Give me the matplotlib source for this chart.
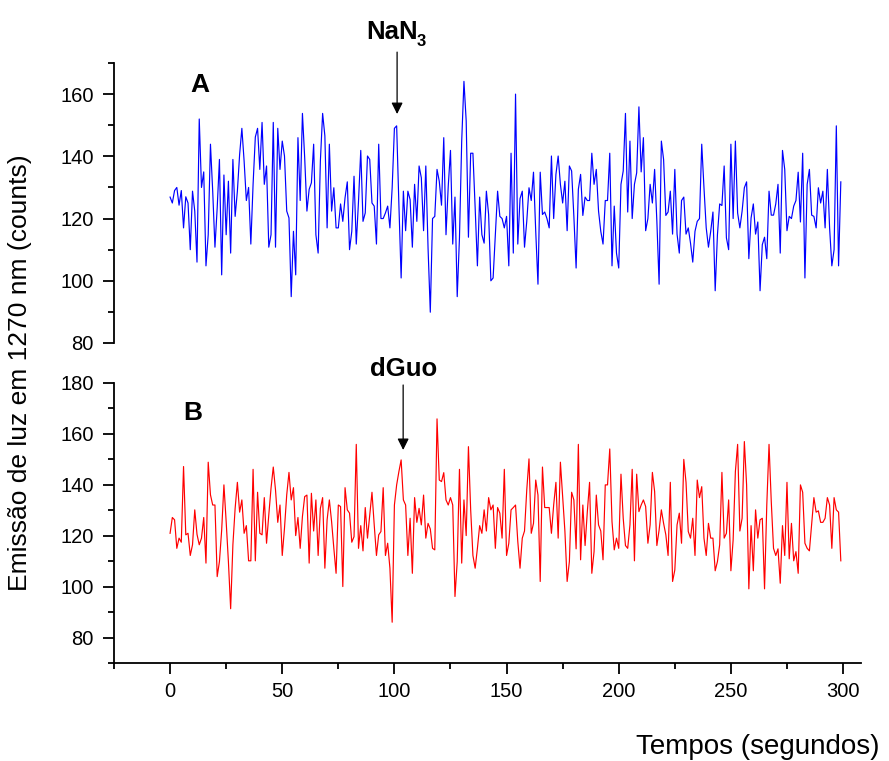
import numpy as np
import matplotlib
matplotlib.use("Agg")
import matplotlib.pyplot as plt
from matplotlib.ticker import MultipleLocator

plt.rcParams['font.family'] = ['Liberation Sans', 'DejaVu Sans']

# time axis (seconds)
seconds = np.arange(300)

# panel A: emission counts, NaN3 added at ~101 s
counts_a = [
    126.9, 125.0, 129, 130, 124.3, 129, 117, 127, 125, 110,
    128.8, 122.4, 106, 152, 130, 135, 104.8, 114.8, 143.9, 128.8,
    110.8, 123.4, 139, 101.9, 134, 114.8, 132, 108.9, 139, 120.7,
    128.8, 140.6, 149, 138.5, 125.8, 130, 111.8, 131, 146.2, 149,
    135.8, 150.9, 131, 136.9, 110.8, 114.8, 150.9, 110.8, 149, 135.8,
    144.9, 140.1, 122.4, 120.2, 94.9, 115.9, 101.9, 146, 125.8, 153.8,
    139.6, 122.4, 129.4, 131.5, 143.9, 114.8, 108.9, 138.5, 153.8, 146.6,
    117, 143.9, 122.4, 129.9, 117, 117, 124.7, 119.1, 126.7, 131.8,
    110, 115.9, 133.6, 111.8, 125.6, 141.9, 119.1, 121.8, 140.1, 139,
    125, 124, 111.8, 143.9, 120, 120, 121.8, 124, 117, 129.9,
    149, 149.8, 124.5, 100.9, 128.8, 116.1, 128.8, 126.1, 110.8, 131,
    119.1, 136.9, 133.1, 116.1, 136.9, 110.5, 89.9, 120, 120.7, 135.8,
    132, 124.3,
    146, 114.8, 130.4, 141.9, 111.8, 126.9, 94.9, 113.8, 144.9, 164.1,
    151.4, 114, 141, 141, 123.4, 104.8, 126.9, 114.8, 112.1, 128.8,
    121.3, 100, 100.9, 114.8, 128.8, 120.7, 120, 117, 120.7, 104.8,
    141, 108.9, 160, 111.8, 126.4, 128.8, 110.8, 119.1, 129.9, 125.8,
    134.9, 115.9, 98.9, 134.9, 121.3, 122.1, 120, 117, 140.1, 120,
    134.2, 140.1, 131, 125, 132, 116.1, 136.9, 135.3, 120.7, 104.1,
    129.4, 134.2,
    121, 126.9, 125.8, 125.8, 141, 131, 135.8, 122.4, 115.9, 111.8,
    125.8, 125.8, 141, 104.8, 124, 108.9, 104.1, 131, 135.3, 153.8,
    122.1, 144.9, 120, 131, 134.7, 155.9, 135, 146, 116.1, 120,
    131, 125, 135.8, 119.1, 98.9, 144.9, 139, 121, 122.1, 128.8,
    115, 135.8, 115, 108.9, 125.8, 126.9, 115, 117, 112.1, 106,
    115.9, 119.1, 120, 143.9, 129.9, 117, 110.8, 115.9, 122.1, 96.8,
    114.8,
    124.7, 124.2, 136.9, 113.8, 110, 143.9, 120, 144.9, 121.8, 117,
    122.4, 129.9, 131.8, 107.1, 120.2, 124.7, 115, 118.9, 96.8, 111.6,
    114, 107.1, 128.8, 121.1, 121.1, 124.7, 131, 108.9, 141.9, 135.8,
    116.1, 120.7, 120, 124, 125.8, 134.9, 118.9, 141, 100.9, 131,
    135.8, 121.1, 120.7, 117, 129.9, 125, 128.8, 117, 135.8, 117,
    104.8, 110, 149.8, 104.8, 131.8,
]

# panel B: emission counts, dGuo added at ~104 s
counts_b = [
    120.9, 127.1, 126.2, 115.0, 119, 117.4, 147.1, 120.3, 120.9, 112.2,
    116.4, 130.1, 120.5, 116.4, 119, 127.1, 109.2, 148.8, 136, 132,
    132, 103.9, 109.8, 122.2, 139.9, 125.5, 109.8, 91.3, 116.4, 130.7,
    140.9, 129.2, 134, 120.9, 123.9, 110.1, 110.1, 146, 110.1, 137,
    120.9, 120.3, 134.9, 117, 128.1, 138.6, 146.9, 137.9, 125.2, 132,
    112.2, 122.9, 136, 144.8, 134, 138.8, 120, 127.1, 115, 127.5,
    135.3, 135.9, 109.2, 136.6, 121.8, 134, 112.2, 130.7, 134.9, 107.2,
    126.2, 134, 125.5, 115, 105.2, 132, 131.4, 100, 138.8, 130.1,
    128.8, 117.4, 119.6, 155.8, 115, 123.9, 114, 131, 119, 128.1,
    137, 124.2, 112.2, 120.3, 121.6, 138.8, 112.2, 117, 107.2, 86,
    132, 139.9, 145.1, 149.7, 134, 132, 112.2, 126.8, 105.2, 134.9,
    125.2, 130.7, 124.2, 135.9, 119, 124.8, 122.6, 115, 114.4, 165.8,
    141.8, 141.2, 144.7, 134, 132, 134.9, 132, 96.1, 109.8, 146,
    109.2, 134, 120, 154.9, 130.1, 112.2, 107.2, 115, 123.9, 120.9,
    130.1, 121.8, 134.9, 130.1, 132, 115, 131, 128.8, 119, 146,
    112.2, 117, 130.1, 131, 132, 117.7, 107.2, 119, 121.8, 137.9,
    150.1, 120.9, 124.8, 141.8, 135.9, 102, 146.9, 131, 131, 131,
    120.9, 132, 140.9, 119, 148.8, 135.3, 121.8, 102, 109.8, 137,
    134, 114.8, 155.8, 110.5, 132, 116.1, 129.4, 140.9, 105.2, 113.7,
    135.9, 124.2, 121.8, 110.5, 139.9, 139.9, 154, 125.5, 114.4, 119,
    115, 144.1, 126.8, 116.1, 115, 124.2, 146, 110.1, 144.1, 129.4,
    132, 134, 131.4, 117, 124.2, 144.8, 137.3, 116.1, 122.2, 130.1,
    124.8, 120.3, 112.2, 140.9, 102, 106.5, 124.2, 128.8, 117, 149.9,
    140.9, 121.6, 119, 126.8, 112.2, 141.8, 134.9, 139.2, 119, 112.2,
    124.8, 119, 119, 106.2, 109.8, 116.4, 144.8, 119, 120.9, 134,
    106.2, 118.3, 145.1, 155.8, 121.8, 126.8, 156.9, 139.9, 99.1, 123.9,
    106.2, 130.1, 119, 126.2, 126.8, 99.1, 132, 155.8, 133.3, 115,
    112.2, 114.8, 101.3, 123.9, 112.2, 140.9, 110.9, 124.8, 110.1, 113.7,
    105.2, 139.9, 137, 117, 115, 114, 124.2, 134.9, 129.2, 129.7,
    125.2, 125.2, 126.8, 134.9, 132, 115, 134.9, 130.1, 129.2, 110.1,
]

yticks_a = [80, 100, 120, 140, 160]
yticks_b = [80, 100, 120, 140, 160, 180]
xticks = [0, 50, 100, 150, 200, 250, 300]

W, H = 889, 761
fig = plt.figure(figsize=(W / 100, H / 100), dpi=100)

left, right = 114 / W, 861 / W
ax_a = fig.add_axes([left, 1 - 343 / H, right - left, (343 - 63) / H])
ax_b = fig.add_axes([left, 1 - 663 / H, right - left, (663 - 382.7) / H])

FS = 14.5
for ax in (ax_a, ax_b):
    ax.set_xlim(-25, 308)
    ax.spines['top'].set_visible(False)
    ax.spines['right'].set_visible(False)
    for s in ax.spines.values():
        s.set_linewidth(1.3)
    ax.tick_params(which='major', direction='out', length=8, width=1.3, labelsize=FS)
    ax.tick_params(axis='y', which='major', pad=6.5)
    ax.tick_params(axis='x', which='major', pad=5.5)
    ax.tick_params(which='minor', direction='out', length=4, width=1.3)
    ax.yaxis.set_minor_locator(MultipleLocator(10))
    ax.patch.set_visible(False)

# panel A
ax_a.plot(seconds, counts_a, color='#0000ff', lw=0.85)
ax_a.set_ylim(80, 170)
ax_a.set_yticks(yticks_a)
ax_a.spines['bottom'].set_visible(False)
ax_a.tick_params(axis='x', which='both', bottom=False, labelbottom=False)

# panel B
ax_b.plot(seconds, counts_b, color='#ff0000', lw=0.85)
ax_b.set_ylim(70, 180)
ax_b.set_yticks(yticks_b)
ax_b.set_xticks(xticks)
ax_b.xaxis.set_minor_locator(MultipleLocator(25))

# panel letters
ax_a.text(13.4, 162.9, 'A', fontsize=19, fontweight='bold', ha='center', va='center')
ax_b.text(10.3, 168.1, 'B', fontsize=19, fontweight='bold', ha='center', va='center')

# addition markers
arrow = dict(arrowstyle='-|>', color='black', lw=0.9, mutation_scale=17,
             shrinkA=0, shrinkB=0)
ax_a.annotate('', xy=(101.2, 153.6), xytext=(101.2, 173.5),
              arrowprops=arrow, annotation_clip=False)
ax_a.text(98.8, 180.0, 'NaN', fontsize=18.5, fontweight='bold',
          ha='center', va='center', clip_on=False)
ax_a.text(112.0, 177.0, '3', fontsize=12, fontweight='bold',
          ha='center', va='center', clip_on=False)
ax_b.annotate('', xy=(103.9, 153.6), xytext=(103.9, 179.1),
              arrowprops=arrow, annotation_clip=False)
ax_b.text(103.9, 185.2, 'dGuo', fontsize=18.5, fontweight='bold',
          ha='center', va='center', clip_on=False)

# axis titles
fig.text(20 / W, 1 - 373 / H, 'Emissão de luz em 1270 nm (counts)', rotation=90,
         fontsize=19, ha='center', va='center')
fig.text(880 / W, 1 - 747 / H, 'Tempos (segundos)', fontsize=20,
         ha='right', va='center')

fig.savefig('out.png', dpi=100)
